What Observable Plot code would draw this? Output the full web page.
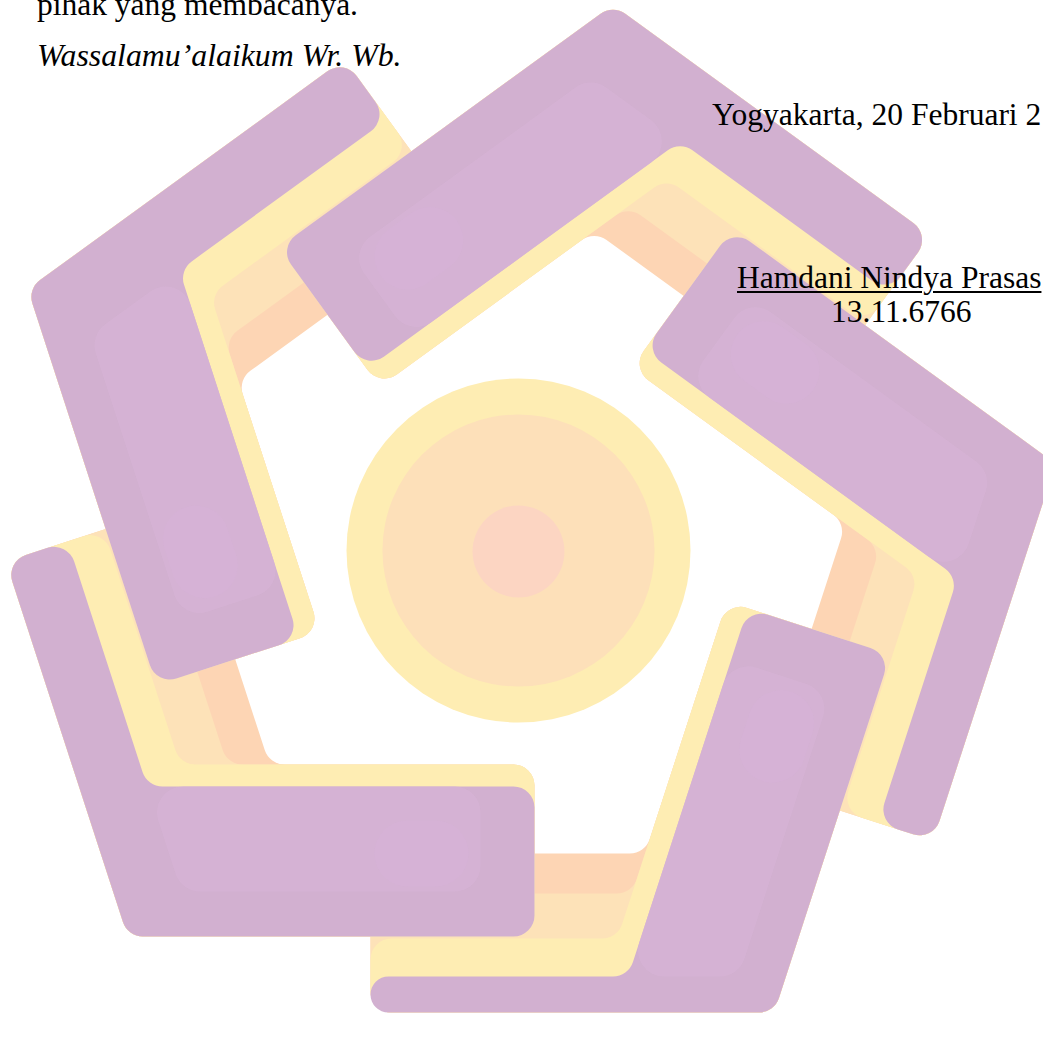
<!DOCTYPE html>
<html>
<head>
<meta charset="utf-8">
<script src="https://cdn.jsdelivr.net/npm/d3@7"></script>
<script src="https://cdn.jsdelivr.net/npm/@observablehq/plot@0.6"></script>
<style>
html, body { margin: 0; padding: 0; background: #fff; overflow: hidden; }
#page { position: relative; width: 1043px; height: 1041px; overflow: hidden; background: #fff; }
#chart { position: absolute; left: 0; top: 0; }
.t { position: absolute; font-family: "Liberation Serif", "Times New Roman", serif; font-size: 31.5px;
     line-height: 1; color: #000; white-space: pre; }
.i { font-style: italic; font-size: 31.8px; }
.u { text-decoration: underline; text-decoration-thickness: 1.5px; text-underline-offset: 3px; }
</style>
</head>
<body>
<div id="page">
  <div id="chart"></div>
  <div class="t" style="left:37px; top:-11.4px;">pihak yang membacanya.</div>
  <div class="t i" style="left:37px; top:40.1px;">Wassalamu’alaikum Wr. Wb.</div>
  <div class="t" style="left:712px; top:98.6px;">Yogyakarta, 20 Februari 2</div>
  <div class="t u" style="left:737px; top:261.6px;">Hamdani Nindya Prasas</div>
  <div class="t" style="left:831px; top:295.6px;">13.11.6766</div>
</div>
<script>
// ---------- logo measurements (logo-centred units, 1 unit = 1 px, y downward) ----------
// outward normal angle (deg, screen) of the pentagon edge carrying each arm's thick leg
const armThickNormalDeg = [90, 162, 234, 306, 18];
const armName = ["bottom-left", "left", "top", "right", "bottom"];
// outer edge of each arm's thin (outer-ring) leg, read per arm
const armThinOuter = [491, 500, 497, 484, 462];

// distances from the logo centre to leg edges, and leg-end positions along each edge
const thickOuter = 386;   // outer edge of the thick (inner-ring) leg
const thickEnd = 16;      // thick leg end, along its edge
const thinEnd = 148;      // thin leg end, along its edge

// stacked layers of every arm (bottom to top)
const layerName = ["orange", "peach", "yellow", "purple"];
const layerThickInner = [214, 214, 214, 236];
const layerThinInner = [303, 343, 388, 426];

// lighter face and glow inside the thick leg
const faceName = ["purpleLight", "pinkGlow"];
const faceInner = [236, 270];
const faceOuter = [341, 336];
const faceStart = [null, -160];   // null = starts at the bend
const faceStop = [-54, -66];

// central disc
const ringName = ["ringOuter", "ringMiddle", "ringInner"];
const ringRadius = [172, 136, 46];
const ringCx = [0, 0, 0];
const ringCy = [0, 0, 1];

// colours
const colorDomain = ["orange", "peach", "yellow", "purple", "purpleLight", "pinkGlow", "ringOuter", "ringMiddle", "ringInner"];
const colorRange = ["#FDD5B4", "#FDE2B8", "#FEEDB3", "#D2B0D0", "#D6B3D5", "#D8B1D9", "#FEEDB3", "#FDE0B9", "#FCD5C2"];

// ---------- geometry helpers ----------
const rad = d => d * Math.PI / 180;
function frame(phiDeg) {
  const a = rad(phiDeg), b = rad(phiDeg + 72);
  return {
    n1: [Math.cos(a), Math.sin(a)], t1: [Math.sin(a), -Math.cos(a)],
    n2: [Math.cos(b), Math.sin(b)], t2: [-Math.sin(b), Math.cos(b)]
  };
}
const along = (n, d, t, s) => [d * n[0] + s * t[0], d * n[1] + s * t[1]];
function meet(n1, a, n2, b) {
  const det = n1[0] * n2[1] - n1[1] * n2[0];
  return [(a * n2[1] - n1[1] * b) / det, (n1[0] * b - a * n2[0]) / det];
}
function armOutline(f, thinOuter, thickIn, thinIn) {
  return [
    meet(f.n1, thickOuter, f.n2, thinOuter),
    along(f.n2, thinOuter, f.t2, thinEnd),
    along(f.n2, thinIn, f.t2, thinEnd),
    meet(f.n1, thickIn, f.n2, thinIn),
    along(f.n1, thickIn, f.t1, thickEnd),
    along(f.n1, thickOuter, f.t1, thickEnd)
  ];
}
function faceOutline(f, inner, outer, start, stop) {
  const s1 = thickEnd + stop;
  const p = [along(f.n1, inner, f.t1, s1), along(f.n1, outer, f.t1, s1)];
  if (start === null) {
    p.push(meet(f.n1, outer, f.n2, layerThinInner[3]), meet(f.n1, inner, f.n2, layerThinInner[3]));
  } else {
    const s0 = thickEnd + start;
    p.push(along(f.n1, outer, f.t1, s0), along(f.n1, inner, f.t1, s0));
  }
  return p;
}

// rows: layer-major so that every arm's purple sits above every arm's bands
const shapeRows = [];
layerName.forEach((layer, j) => {
  armThickNormalDeg.forEach((phi, k) => {
    const f = frame(phi);
    armOutline(f, armThinOuter[k], layerThickInner[j], layerThinInner[j]).forEach(([x, y]) =>
      shapeRows.push({key: layer + "-" + armName[k], layer, x, y}));
  });
});
const faceRows = [];
faceName.forEach((layer, j) => {
  armThickNormalDeg.forEach((phi, k) => {
    const f = frame(phi);
    faceOutline(f, faceInner[j], faceOuter[j], faceStart[j], faceStop[j]).forEach(([x, y]) =>
      faceRows.push({key: layer + "-" + armName[k], layer, x, y}));
  });
});
const rings = ringName.map((name, i) => ({name, radius: ringRadius[i], cx: ringCx[i], cy: ringCy[i]}));

// closed polygon curve with rounded corners (d3 curve factory)
function roundedClosed(radius) {
  return function (context) {
    return {
      areaStart() {}, areaEnd() {},
      lineStart() { this.pts = []; },
      point(x, y) { this.pts.push([+x, +y]); },
      lineEnd() {
        const p = this.pts, n = p.length;
        if (n < 3) return;
        context.moveTo((p[n - 1][0] + p[0][0]) / 2, (p[n - 1][1] + p[0][1]) / 2);
        for (let i = 0; i < n; i++) {
          const c = p[i], nx = p[(i + 1) % n], pv = p[(i - 1 + n) % n];
          const ax = pv[0] - c[0], ay = pv[1] - c[1], bx = nx[0] - c[0], by = nx[1] - c[1];
          const la = Math.hypot(ax, ay), lb = Math.hypot(bx, by);
          const ang = Math.acos(Math.max(-1, Math.min(1, (ax * bx + ay * by) / (la * lb))));
          let r = radius;
          const tanHalf = Math.tan(ang / 2);
          if (r / tanHalf > 0.5 * Math.min(la, lb)) r = 0.5 * Math.min(la, lb) * tanHalf;
          context.arcTo(c[0], c[1], nx[0], nx[1], r);
        }
        context.closePath();
      }
    };
  };
}

const chart = Plot.plot({
  width: 1043,
  height: 1041,
  margin: 0,
  x: {domain: [-518, 525], axis: null},
  y: {domain: [-550, 491], reverse: true, axis: null},
  r: {type: "identity"},
  color: {type: "ordinal", domain: colorDomain, range: colorRange},
  marks: [
    Plot.line(shapeRows, {x: "x", y: "y", z: "key", fill: "layer", stroke: "none", curve: roundedClosed(21)}),
    Plot.line(faceRows.filter(d => d.layer === "purpleLight"), {x: "x", y: "y", z: "key", fill: "layer", stroke: "none", fillOpacity: 0.85, curve: roundedClosed(26)}),
    Plot.line(faceRows.filter(d => d.layer === "pinkGlow"), {x: "x", y: "y", z: "key", fill: "layer", stroke: "none", fillOpacity: 0.45, curve: roundedClosed(40)}),
    Plot.dot(rings, {x: "cx", y: "cy", r: "radius", fill: "name", stroke: "none"})
  ]
});
document.getElementById("chart").appendChild(chart);
</script>
</body>
</html>
